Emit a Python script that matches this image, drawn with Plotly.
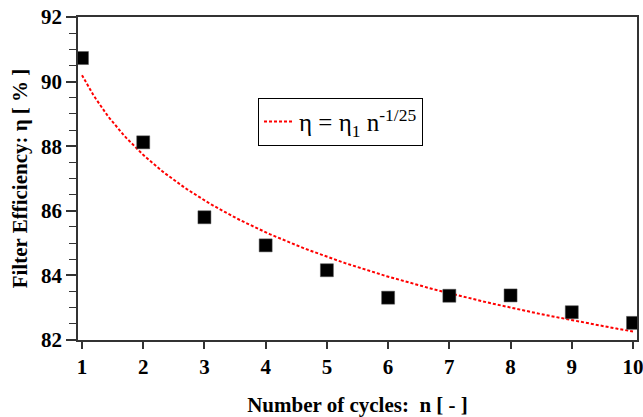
import numpy as np
import plotly.graph_objects as go

# Measured filter efficiency per cycle
cycles = [1, 2, 3, 4, 5, 6, 7, 8, 9, 10]
efficiency = [90.73, 88.12, 85.80, 84.93, 84.16, 83.31, 83.37, 83.38, 82.86, 82.53]

# Power-law model: eta = eta1 * n^(-1/25)
eta1 = 90.2
exponent = -1.0 / 25.0
n_model = np.linspace(1, 10, 200)
eta_model = eta1 * n_model ** exponent

x_ticks = [1, 2, 3, 4, 5, 6, 7, 8, 9, 10]
y_ticks = [82, 84, 86, 88, 90, 92]

serif = "Liberation Serif"

fig = go.Figure()
fig.add_trace(go.Scatter(
    x=n_model, y=eta_model, mode="lines",
    line=dict(color="#ff0000", width=2, dash="3px,2px"),
    name="η = η<sub>1</sub> n<sup>-1/25</sup>",
    showlegend=True,
))
fig.add_trace(go.Scatter(
    x=cycles, y=efficiency, mode="markers",
    marker=dict(symbol="square", size=13, color="black",
                line=dict(color="#555555", width=0.5)),
    showlegend=False,
))

axis_common = dict(
    showline=True, linecolor="#333333", linewidth=1.5, mirror=True,
    showgrid=False, zeroline=False, ticks="outside", tickcolor="#333333",
    automargin=False, ticklabeloverflow="allow",
    tickfont=dict(family=serif, size=21, color="black", weight="bold"),
)

fig.update_xaxes(
    range=[0.935, 10.065], tickvals=x_ticks, ticklen=7, tickwidth=1.5,
    title=dict(text="Number of cycles:  n [ - ]", standoff=19,
               font=dict(family=serif, size=21, color="black", weight="bold")),
    **axis_common,
)
fig.update_yaxes(
    range=[82, 92], tickvals=y_ticks, ticklen=10, tickwidth=1.5,
    minor=dict(dtick=0.5, ticks="outside", ticklen=7, tickcolor="#333333", tickwidth=1.2),
    title=dict(text="Filter Efficiency: η [ % ]", standoff=8,
               font=dict(family=serif, size=21, color="black", weight="bold")),
    **axis_common,
)

fig.update_layout(
    width=643, height=417,
    margin=dict(l=78, r=6, t=17, b=77),
    paper_bgcolor="white", plot_bgcolor="white",
    font=dict(family=serif),
    legend=dict(
        x=0.322, y=0.75, xanchor="left", yanchor="top",
        bgcolor="white", bordercolor="black", borderwidth=1,
        font=dict(family=serif, size=25, color="black"),
        itemwidth=30,
    ),
)

fig.write_html("out.html")
